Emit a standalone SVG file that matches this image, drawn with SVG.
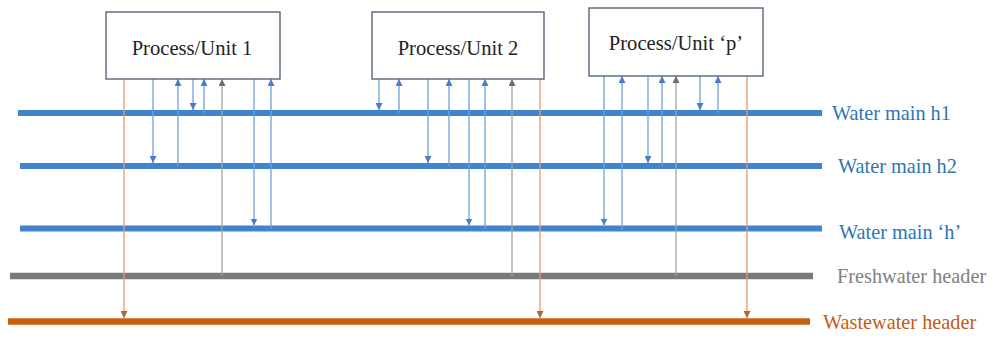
<svg xmlns="http://www.w3.org/2000/svg" width="992" height="337" viewBox="0 0 992 337">
<style>
.box{fill:#fff;stroke:#56657a;stroke-width:1.4}
.bt{font-family:"Liberation Serif","Times New Roman",serif;font-size:20.6px;fill:#222;text-anchor:middle}
.lbl{font-family:"Liberation Serif","Times New Roman",serif;font-size:20.3px}
.main{stroke:#4184cd;stroke-width:6}
.fw{stroke:#7a7a7a;stroke-width:6.5}
.ww{stroke:#c9600e;stroke-width:6.5}
.cb{stroke:#6e9fd8;stroke-width:1.3;fill:none}
.cg{stroke:#a3a3a3;stroke-width:1.3;fill:none}
.co{stroke:#e59a6e;stroke-width:1.3;fill:none}
</style>
<defs>
<marker id="ab" viewBox="0 0 10 10" refX="10" refY="5" markerWidth="7" markerHeight="7" markerUnits="userSpaceOnUse" orient="auto"><path d="M0,0 L10,5 L0,10 z" fill="#4a7dc4"/></marker>
<marker id="ag" viewBox="0 0 10 10" refX="10" refY="5" markerWidth="7" markerHeight="7" markerUnits="userSpaceOnUse" orient="auto"><path d="M0,0 L10,5 L0,10 z" fill="#6d6d6d"/></marker>
<marker id="ao" viewBox="0 0 10 10" refX="10" refY="5" markerWidth="7" markerHeight="7" markerUnits="userSpaceOnUse" orient="auto"><path d="M0,0 L10,5 L0,10 z" fill="#b5642e"/></marker>
</defs>

<g id="mains">
<g id="main-h1"><line class="main" x1="18" y1="113" x2="822" y2="113"/><text class="lbl" x="832" y="120" fill="#2e75b6">Water main h1</text></g>
<g id="main-h2"><line class="main" x1="20" y1="166" x2="822" y2="166"/><text class="lbl" x="838" y="173" fill="#2e75b6">Water main h2</text></g>
<g id="main-h"><line class="main" x1="20" y1="228.5" x2="822" y2="228.5"/><text class="lbl" x="839" y="239" fill="#2e75b6">Water main ‘h’</text></g>
<g id="freshwater"><line class="fw" x1="10" y1="276" x2="813" y2="276"/><text class="lbl" x="837" y="283" fill="#7f7f7f">Freshwater header</text></g>
<g id="wastewater"><line class="ww" x1="8" y1="321.5" x2="810" y2="321.5"/><text class="lbl" x="823" y="329" fill="#c55a11">Wastewater header</text></g>
</g>

<g id="connectors">
<!-- Process/Unit 1 -->
<line class="co" x1="124" y1="79" x2="124" y2="318" marker-end="url(#ao)"/>
<line class="cb" x1="153" y1="79" x2="153" y2="163" marker-end="url(#ab)"/>
<line class="cb" x1="178" y1="166" x2="178" y2="79" marker-end="url(#ab)"/>
<line class="cb" x1="193" y1="79" x2="193" y2="110" marker-end="url(#ab)"/>
<line class="cb" x1="204" y1="113" x2="204" y2="79" marker-end="url(#ab)"/>
<line class="cg" x1="222" y1="276" x2="222" y2="79" marker-end="url(#ag)"/>
<line class="cb" x1="254" y1="79" x2="254" y2="225.5" marker-end="url(#ab)"/>
<line class="cb" x1="271" y1="228.5" x2="271" y2="79" marker-end="url(#ab)"/>
<!-- Process/Unit 2 -->
<line class="cb" x1="379" y1="79" x2="379" y2="110" marker-end="url(#ab)"/>
<line class="cb" x1="399" y1="113" x2="399" y2="79" marker-end="url(#ab)"/>
<line class="cb" x1="428" y1="79" x2="428" y2="163" marker-end="url(#ab)"/>
<line class="cb" x1="449" y1="166" x2="449" y2="79" marker-end="url(#ab)"/>
<line class="cb" x1="469" y1="79" x2="469" y2="225.5" marker-end="url(#ab)"/>
<line class="cb" x1="485" y1="228.5" x2="485" y2="79" marker-end="url(#ab)"/>
<line class="cg" x1="512" y1="276" x2="512" y2="79" marker-end="url(#ag)"/>
<line class="co" x1="540" y1="79" x2="540" y2="318" marker-end="url(#ao)"/>
<!-- Process/Unit p -->
<line class="cb" x1="604" y1="76" x2="604" y2="225.5" marker-end="url(#ab)"/>
<line class="cb" x1="622" y1="230" x2="622" y2="76" marker-end="url(#ab)"/>
<line class="cb" x1="648" y1="76" x2="648" y2="163" marker-end="url(#ab)"/>
<line class="cb" x1="662" y1="166" x2="662" y2="76" marker-end="url(#ab)"/>
<line class="cg" x1="676" y1="276" x2="676" y2="76" marker-end="url(#ag)"/>
<line class="cb" x1="700" y1="76" x2="700" y2="110" marker-end="url(#ab)"/>
<line class="cb" x1="718" y1="113" x2="718" y2="76" marker-end="url(#ab)"/>
<line class="co" x1="747" y1="76" x2="747" y2="318" marker-end="url(#ao)"/>
</g>

<g id="unit1"><rect class="box" x="106" y="12" width="174" height="67"/><text class="bt" x="192" y="55">Process/Unit 1</text></g>
<g id="unit2"><rect class="box" x="372" y="12" width="172" height="67"/><text class="bt" x="458" y="55">Process/Unit 2</text></g>
<g id="unitp"><rect class="box" x="589" y="8" width="174" height="68"/><text class="bt" x="676" y="50">Process/Unit ‘p’</text></g>
</svg>
